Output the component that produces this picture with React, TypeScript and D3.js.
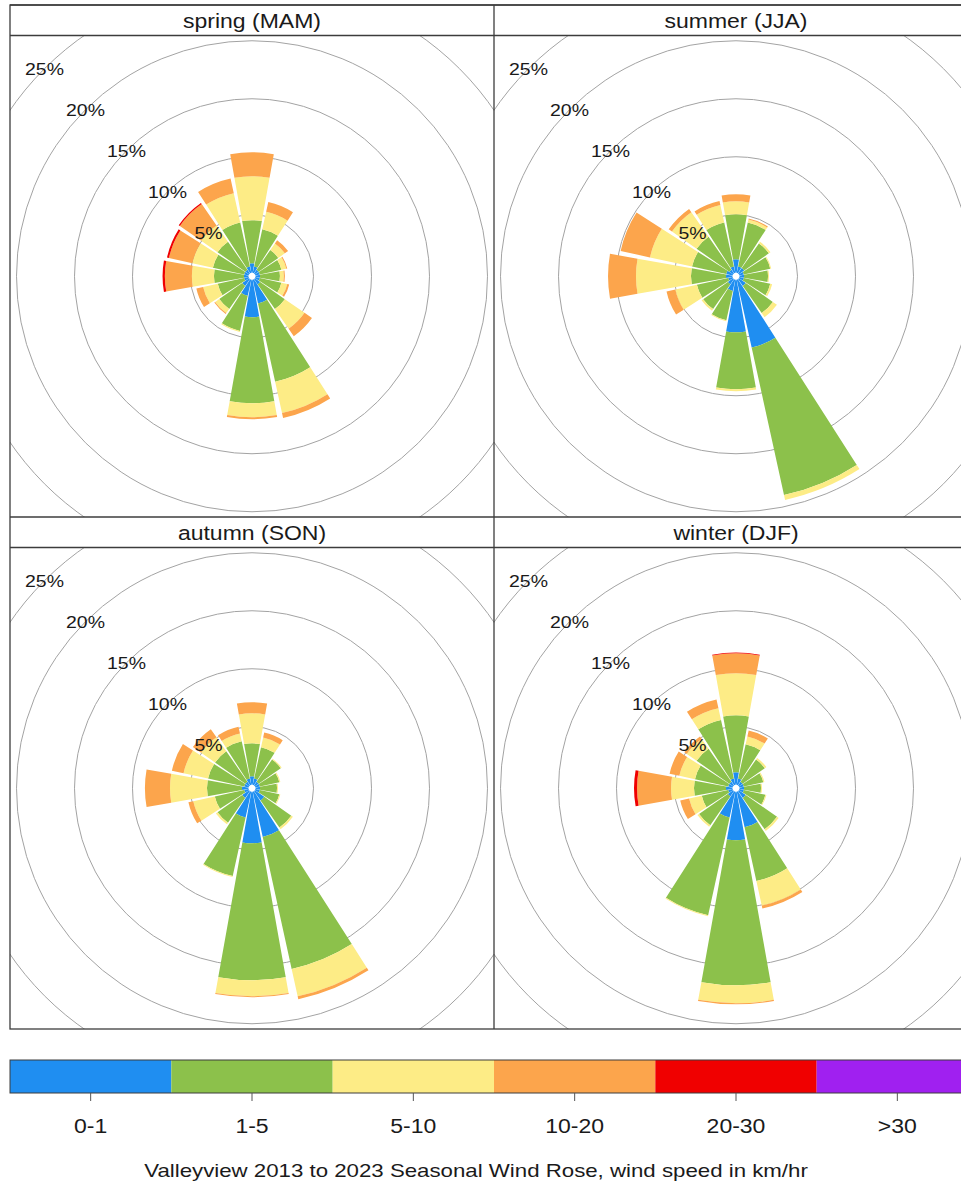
import * as d3 from "d3";

// compass directions of the petals (deg, clockwise from north)
const directions = [0, 22.5, 45, 67.5, 90, 112.5, 135, 157.5, 180, 202.5, 225, 247.5, 270, 292.5, 315, 337.5];
const speedBins = ["0-1", "1-5", "5-10", "10-20", "20-30", ">30"];
const binColours = ["#1f8ef1", "#8cc14b", "#fdec86", "#fca54c", "#f00000", "#a020f0"];
const gridPercent = [5, 10, 15, 20, 25, 30];
const labelPercent = [5, 10, 15, 20, 25];
const panelTitles = ["spring (MAM)", "summer (JJA)", "autumn (SON)", "winter (DJF)"];
const caption = "Valleyview 2013 to 2023 Seasonal Wind Rose, wind speed in km/hr";

// frequency (%) per speed bin (rows) and direction (columns, N clockwise)
const springFreq = [
  [0.82, 0.56, 0.39, 0.39, 0.39, 0.39, 0.56, 2.11, 3.23, 1.42, 0.73, 0.39, 0.39, 0.39, 0.39, 0.56],
  [3.71, 3.28, 2.07, 1.9, 1.72, 1.9, 2.59, 6.9, 7.41, 3.1, 2.41, 2.33, 2.59, 2.76, 2.93, 3.88],
  [3.79, 1.55, 0.69, 0.43, 0.34, 0.52, 2.07, 2.76, 1.21, 0.09, 0.43, 1.29, 1.9, 1.81, 1.72, 2.59],
  [2.07, 0.86, 0.34, 0.09, 0.09, 0.17, 0.78, 0.43, 0.17, 0, 0.09, 0.6, 2.33, 2.07, 2.24, 1.29],
  [0, 0, 0, 0, 0, 0, 0, 0, 0, 0, 0, 0, 0.2, 0.17, 0.12, 0],
  [0, 0, 0, 0, 0, 0, 0, 0, 0, 0, 0, 0, 0, 0, 0, 0],
];
const summerFreq = [
  [1.16, 0.56, 0.56, 0.39, 0.39, 0.39, 0.73, 5.99, 4.53, 0.99, 0.56, 0.39, 0.56, 0.56, 0.39, 0.56],
  [3.88, 3.88, 2.59, 2.33, 2.07, 2.33, 2.84, 13.02, 4.91, 2.59, 2.59, 2.76, 3.02, 3.02, 3.45, 3.88],
  [1.12, 0.26, 0.17, 0.09, 0.09, 0.17, 0.43, 0.43, 0.17, 0.09, 0.17, 1.9, 4.74, 3.71, 2.59, 1.55],
  [0.6, 0.09, 0, 0, 0, 0, 0, 0, 0, 0, 0, 0.78, 2.41, 2.59, 0.34, 0.34],
  [0, 0, 0, 0, 0, 0, 0, 0, 0, 0, 0, 0, 0, 0, 0, 0],
  [0, 0, 0, 0, 0, 0, 0, 0, 0, 0, 0, 0, 0, 0, 0, 0],
];
const autumnFreq = [
  [0.73, 0.56, 0.39, 0.39, 0.39, 0.39, 0.99, 4.01, 4.44, 2.28, 0.73, 0.39, 0.56, 0.39, 0.39, 0.56],
  [2.84, 2.76, 2.33, 1.72, 1.47, 1.72, 2.84, 11.64, 11.81, 5.17, 2.59, 2.59, 3.02, 3.19, 3.19, 3.28],
  [2.59, 0.86, 0.09, 0.09, 0.09, 0.09, 0.17, 2.41, 1.38, 0.09, 0.17, 1.9, 3.19, 2.16, 1.47, 0.69],
  [0.95, 0.43, 0, 0, 0, 0, 0, 0.26, 0.09, 0, 0, 0.43, 2.16, 1.03, 0.86, 0.6],
  [0, 0, 0, 0, 0, 0, 0, 0, 0, 0, 0, 0, 0, 0, 0, 0],
  [0, 0, 0, 0, 0, 0, 0, 0, 0, 0, 0, 0, 0, 0, 0, 0],
];
const winterFreq = [
  [1.08, 0.56, 0.39, 0.39, 0.39, 0.39, 0.73, 3.15, 4.18, 2.28, 0.56, 0.39, 0.56, 0.39, 0.39, 0.56],
  [4.91, 3.02, 2.33, 1.72, 1.47, 1.9, 3.28, 4.74, 12.5, 8.62, 3.02, 2.33, 2.76, 2.93, 3.45, 5.17],
  [3.62, 0.69, 0.17, 0.09, 0.09, 0.09, 0.17, 2.16, 1.55, 0.09, 0.17, 1.12, 1.98, 1.38, 1.03, 1.03],
  [1.72, 0.52, 0, 0, 0, 0, 0, 0.26, 0.09, 0, 0, 0.78, 2.93, 0.86, 0.26, 0.78],
  [0.06, 0, 0, 0, 0, 0, 0, 0, 0, 0, 0, 0, 0.26, 0, 0, 0],
  [0, 0, 0, 0, 0, 0, 0, 0, 0, 0, 0, 0, 0, 0, 0, 0],
];
const seasonFreq = [springFreq, summerFreq, autumnFreq, winterFreq];

const W = 961;
const H = 1185;
const frameLeft = 10;
const panelW = 484;
const frameTop = 5;
const stripH = 30.5;
const plotH = 481.5;
const font = "'Liberation Sans', Arial, Helvetica, sans-serif";
const stretch = 1.18;

const rScale = d3.scaleLinear().domain([0, 25]).range([3.5, 3.5 + 25 * 11.6]);
const rad = (deg: number) => (deg * Math.PI) / 180;
const petalHalf = 0.45 * 22.5;

const Txt = ({ x, y, size, children, anchor = "middle", sx = stretch }: any) => (
  <text
    transform={`translate(${x},${y}) scale(${sx},1)`}
    textAnchor={anchor}
    fontFamily={font}
    fontSize={size}
    fill="#1a1a1a"
  >
    {children}
  </text>
);

const WindRose = ({ freq, x0, y0, idx }: any) => {
  const cx = x0 + panelW / 2;
  const cy = y0 + plotH / 2;
  const rows = directions.map((dir, i) => {
    const row: any = { dir };
    speedBins.forEach((b, j) => (row[b] = freq[j][i]));
    return row;
  });
  const stacked = d3.stack().keys(speedBins)(rows);
  const arc = d3.arc();
  const clipId = `clip-${idx}`;
  return (
    <g>
      <clipPath id={clipId}>
        <rect x={x0} y={y0} width={panelW} height={plotH} />
      </clipPath>
      <g clipPath={`url(#${clipId})`}>
        <g transform={`translate(${cx},${cy})`}>
          {gridPercent.map((p) => (
            <circle key={p} r={rScale(p)} fill="none" stroke="#a3a3a3" strokeWidth={1} />
          ))}
          {stacked.map((series, j) =>
            series.map((d: any, i: number) => {
              if (d[1] - d[0] <= 0) return null;
              const dir = d.data.dir;
              return (
                <path
                  key={`${j}-${i}`}
                  d={
                    arc({
                      innerRadius: rScale(d[0]),
                      outerRadius: rScale(d[1]),
                      startAngle: rad(dir - petalHalf),
                      endAngle: rad(dir + petalHalf),
                    }) as string
                  }
                  fill={binColours[j]}
                />
              );
            })
          )}
          {labelPercent.map((p) => {
            const r = rScale(p);
            return (
              <g key={p} transform={`translate(${-r * Math.SQRT1_2},${-r * Math.SQRT1_2 + 6})`}>
                <Txt x={0} y={0} size={16.5}>
                  {`${p}%`}
                </Txt>
              </g>
            );
          })}
        </g>
      </g>
    </g>
  );
};

export default function App() {
  const cols = [frameLeft, frameLeft + panelW];
  const rowTops = [frameTop, frameTop + stripH + plotH];
  const frameRight = frameLeft + 2 * panelW;
  const frameBottom = frameTop + 2 * (stripH + plotH);
  const legendX = d3.scaleBand().domain(speedBins).range([frameLeft, frameRight]);
  const barTop = 1060;
  const barH = 33;
  const edge = "#3c3c3c";

  return (
    <div style={{ position: "absolute", left: 0, top: 0 }}>
      <svg width={W} height={H} style={{ display: "block", background: "#fff" }}>
        <rect width={W} height={H} fill="#fff" />
        {panelTitles.map((title, k) => {
          const x0 = cols[k % 2];
          const y0 = rowTops[Math.floor(k / 2)];
          return (
            <g key={title}>
              <WindRose freq={seasonFreq[k]} x0={x0} y0={y0 + stripH} idx={k} />
              <Txt x={x0 + panelW / 2} y={y0 + 22.5} size={19.5}>
                {title}
              </Txt>
            </g>
          );
        })}
        {/* panel frames and strips */}
        <g fill="none" stroke={edge} strokeWidth={1.3}>
          <rect x={frameLeft} y={frameTop} width={frameRight - frameLeft} height={frameBottom - frameTop} />
          <line x1={frameLeft + panelW} x2={frameLeft + panelW} y1={frameTop} y2={frameBottom} />
          {rowTops.map((t) => (
            <g key={t}>
              <line x1={frameLeft} x2={frameRight} y1={t} y2={t} />
              <line x1={frameLeft} x2={frameRight} y1={t + stripH} y2={t + stripH} />
            </g>
          ))}
        </g>
        {/* colour key */}
        {speedBins.map((b, j) => (
          <rect
            key={b}
            x={legendX(b)}
            y={barTop}
            width={legendX.bandwidth()}
            height={barH}
            fill={binColours[j]}
          />
        ))}
        <rect x={frameLeft} y={barTop} width={frameRight - frameLeft} height={barH} fill="none" stroke={edge} strokeWidth={1} />
        {speedBins.map((b) => {
          const x = (legendX(b) as number) + legendX.bandwidth() / 2;
          return (
            <g key={b}>
              <line x1={x} x2={x} y1={barTop + barH} y2={barTop + barH + 8} stroke="#555" strokeWidth={1} />
              <Txt x={x} y={1133} size={19.5}>
                {b}
              </Txt>
            </g>
          );
        })}
        <Txt x={476} y={1177} size={18.7} sx={1.19}>
          {caption}
        </Txt>
      </svg>
    </div>
  );
}
